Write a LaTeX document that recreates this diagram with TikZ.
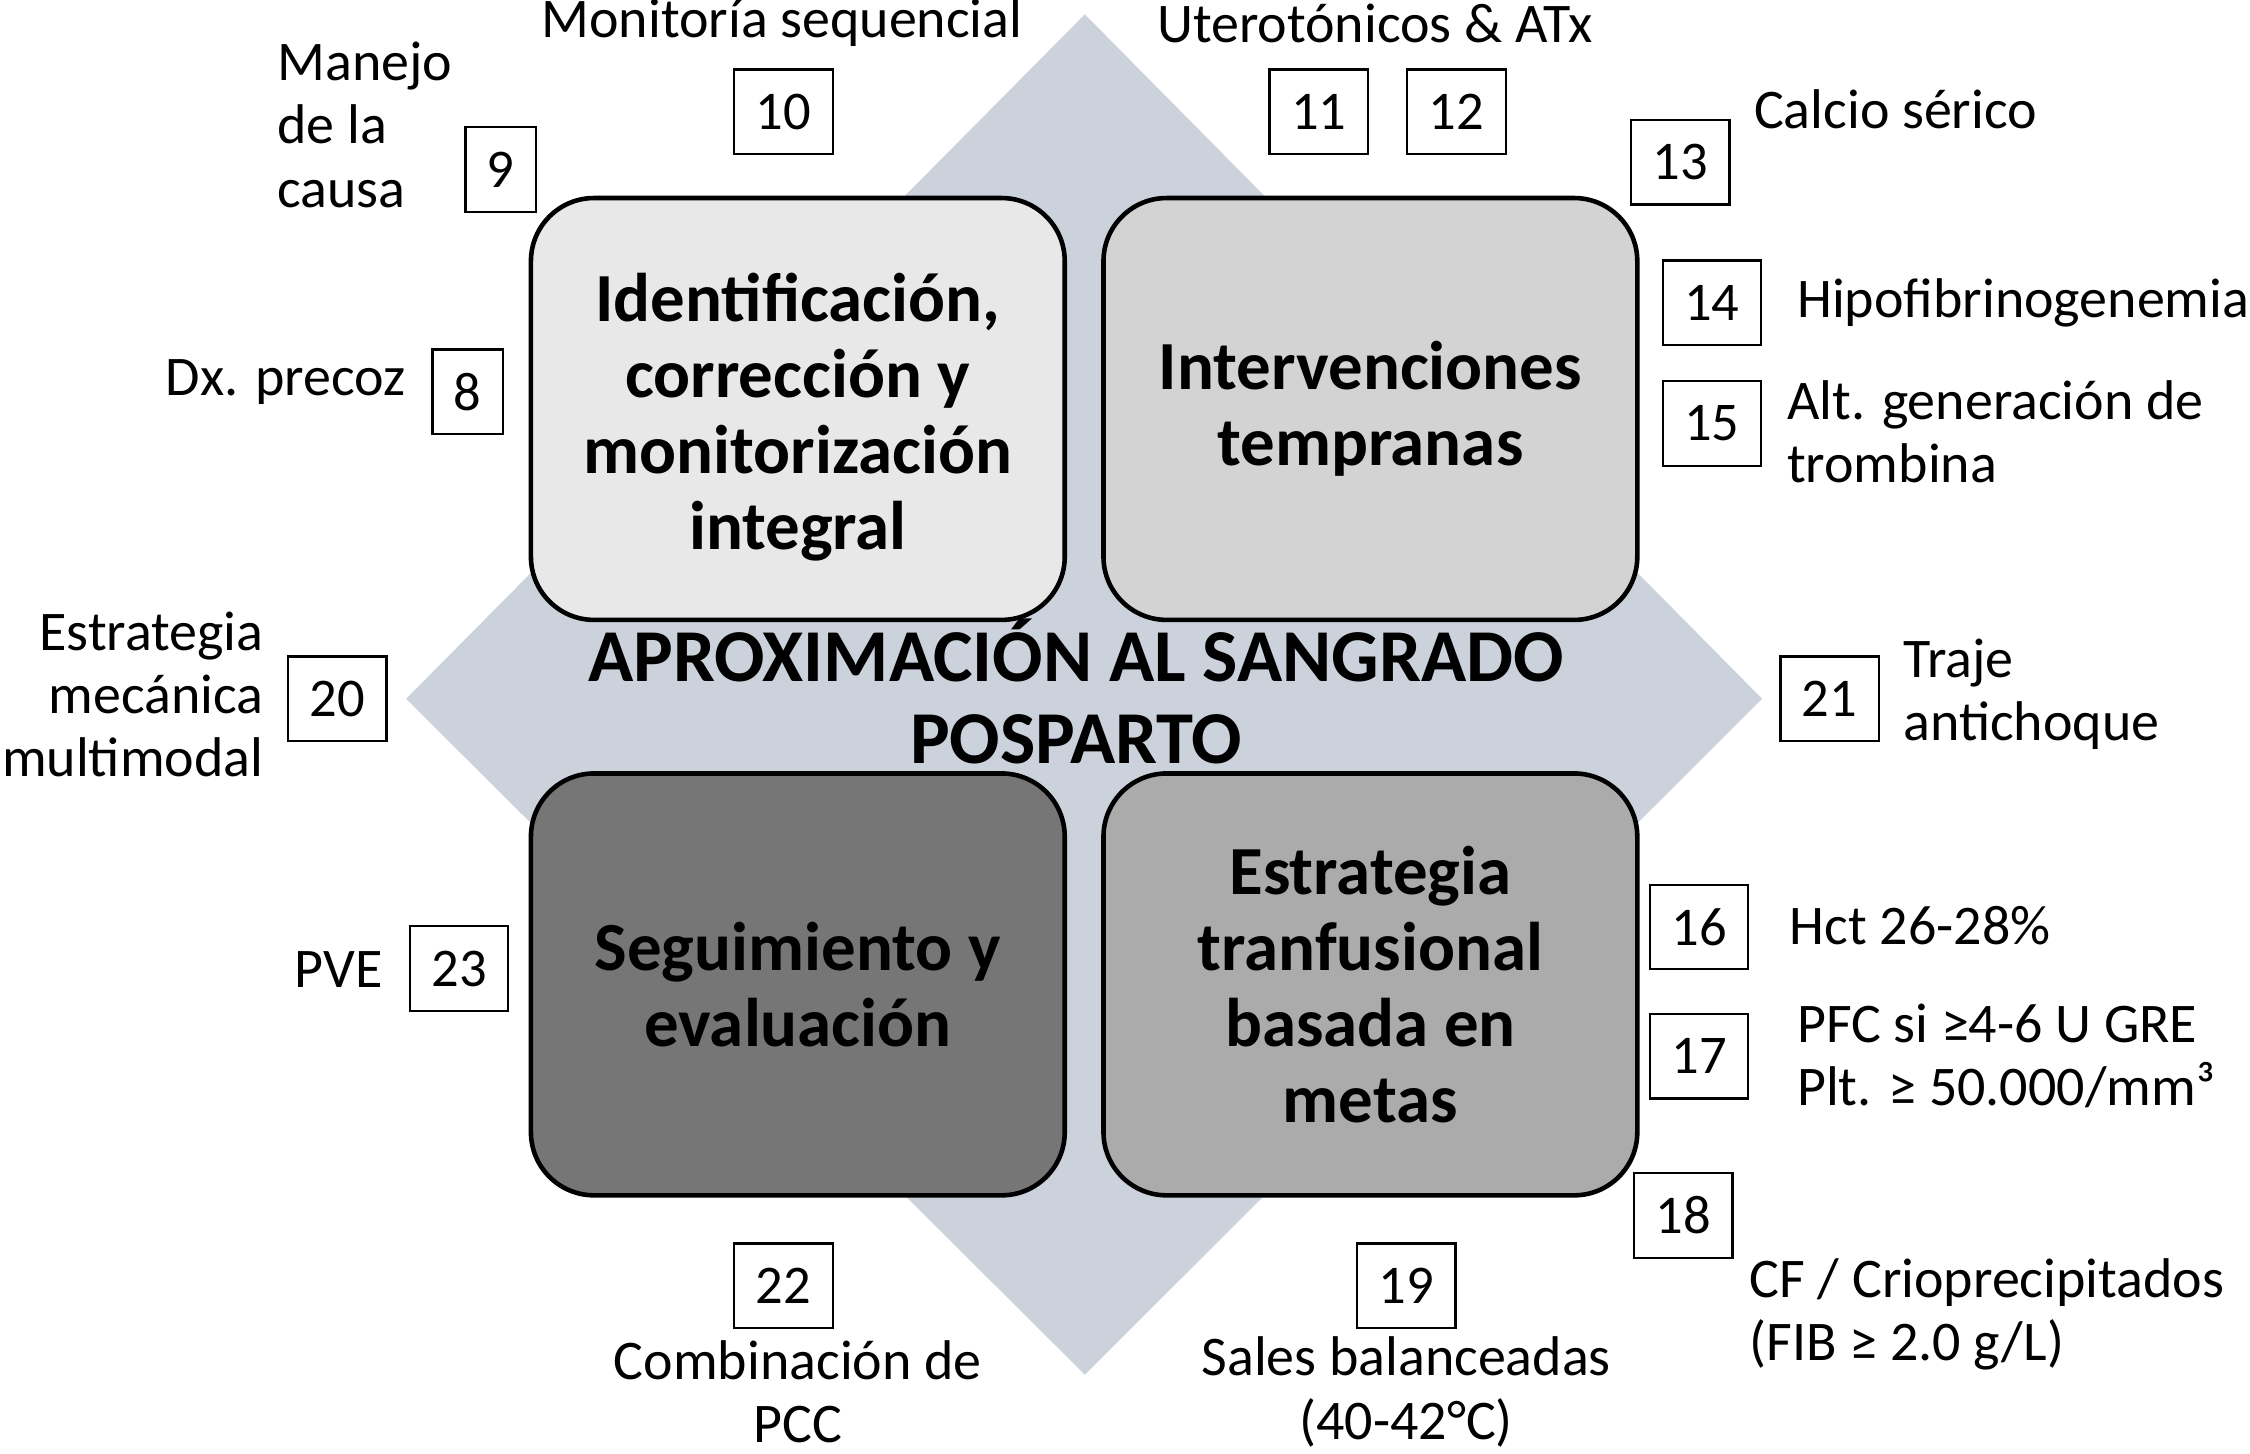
\documentclass[tikz,border=0pt]{standalone}
\usepackage{fontspec}
\setmainfont{Carlito}
\definecolor{diam}{RGB}{204,210,219}
\definecolor{ctl}{RGB}{232,232,232}
\definecolor{ctr}{RGB}{211,211,211}
\definecolor{cbl}{RGB}{118,118,118}
\definecolor{cbr}{RGB}{171,171,171}
\tikzset{
  bigbox/.style={draw=black, line width=1.6pt, rounded corners=22pt, minimum width=186pt, minimum height=147pt, align=center, font=\fontsize{24}{26.5}\selectfont\bfseries, inner sep=0pt},
  numbox/.style={draw=black, line width=0.8pt, fill=white, minimum height=29.5pt, inner xsep=7.5pt, inner ysep=0pt, font=\fontsize{19}{22}\selectfont},
  lab/.style={inner sep=0pt, font=\fontsize{19.5}{22}\selectfont},
  title/.style={inner sep=0pt, align=center, font=\fontsize{26}{28.5}\selectfont\bfseries}
}
\begin{document}
\begin{tikzpicture}[x=0.5pt,y=-0.5pt]
\useasboundingbox (0,0) rectangle (1568,1013);
\fill[diam] (756,10) -- (1228,487) -- (756,958) -- (283,487) -- cycle;

\node[bigbox, fill=ctl, text depth=0pt] (tl) at (556,285) {\\[-8pt]Identificación,\\corrección y\\monitorización\\integral};
\node[bigbox, fill=ctr] (tr) at (955,285) {Intervenciones\\tempranas};
\node[bigbox, fill=cbl] (bl) at (556,686) {Seguimiento y\\evaluación};
\node[bigbox, fill=cbr] (br) at (955,686) {Estrategia\\tranfusional\\basada en\\metas};

\node[title] (ttl) at (750,482) {APROXIMACIÓN AL SANGRADO\\POSPARTO};

% number boxes
\node[numbox] (n9) at (349,118) {9};
\node[numbox] (n10) at (546,78) {10};
\node[numbox] (n11) at (919,78) {11};
\node[numbox] (n12) at (1015,78) {12};
\node[numbox] (n13) at (1171,113) {13};
\node[numbox] (n14) at (1193,211) {14};
\node[numbox] (n15) at (1193,295) {15};
\node[numbox] (n8) at (326,273) {8};
\node[numbox] (n20) at (235,487) {20};
\node[numbox] (n21) at (1275,487) {21};
\node[numbox] (n23) at (320,675) {23};
\node[numbox] (n16) at (1184,646) {16};
\node[numbox] (n17) at (1184,736) {17};
\node[numbox] (n18) at (1173,847) {18};
\node[numbox] (n22) at (546,896) {22};
\node[numbox] (n19) at (980,896) {19};

% labels
\node[lab, anchor=west, align=left] (l9) at (193,87) {Manejo\\de la\\causa};
\node[lab] (l10) at (545,16) {Monitoría sequencial};
\node[lab] (l11) at (958,16) {Uterotónicos \& ATx};
\node[lab, anchor=west] (l13) at (1222,76) {Calcio sérico};
\node[lab, anchor=west] (l14) at (1252,211) {Hipofibrinogenemia};
\node[lab, anchor=west, align=left] (l15) at (1245,301) {Alt. generación de\\trombina};
\node[lab, anchor=east] (l8) at (283,266) {Dx. precoz};
\node[lab, anchor=east, align=right] (l20) at (184,484) {Estrategia\\mecánica\\multimodal};
\node[lab, anchor=west, align=left] (l21) at (1326,484) {Traje\\antichoque};
\node[lab, anchor=east] (l23) at (267,676) {PVE};
\node[lab, anchor=west] (l16) at (1247,645) {Hct 26-28\%};
\node[lab, anchor=west, align=left] (l17) at (1252,736) {PFC si ≥4-6 U GRE\\Plt. ≥ 50.000/mm³};
\node[lab, anchor=west, align=left] (l18) at (1219,916) {CF / Crioprecipitados\\(FIB ≥ 2.0 g/L)};
\node[lab, align=center] (l22) at (556,970) {Combinación de\\PCC};
\node[lab, align=center] (l19) at (980,970) {Sales balanceadas\\(40-42°C)};
\end{tikzpicture}
\end{document}
